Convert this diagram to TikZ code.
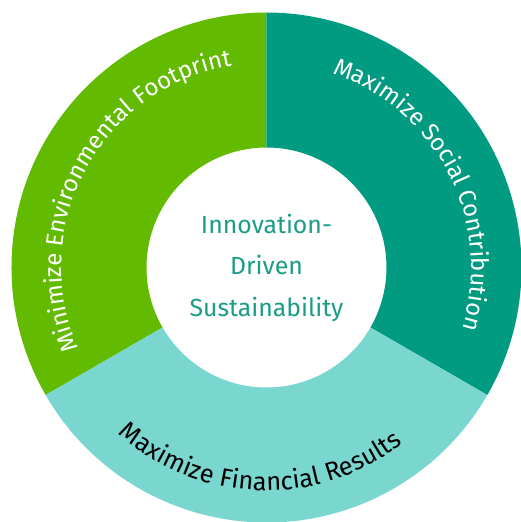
\documentclass[tikz,border=0pt]{standalone}
\usepackage{fontspec}
\setmainfont{Fira Sans}
\usetikzlibrary{decorations.text}
\definecolor{cgreen}{HTML}{62BB00}
\definecolor{cteal}{HTML}{009B80}
\definecolor{clight}{HTML}{79D7CF}
\definecolor{ctext}{HTML}{1A9C88}
\begin{document}
\begin{tikzpicture}[x=1pt,y=1pt,
  arclabel/.style={decorate, decoration={text along path, text align=center, text color=#1}}]
\useasboundingbox (-266.5,-254.5) rectangle (254.5,267.5);
\def\Ro{255}\def\Ri{120}
\fill[cgreen] (90:\Ro) arc[start angle=90,end angle=210,radius=\Ro] -- (210:\Ri) arc[start angle=210,end angle=90,radius=\Ri] -- cycle;
\fill[cteal] (-30:\Ro) arc[start angle=-30,end angle=90,radius=\Ro] -- (90:\Ri) arc[start angle=90,end angle=-30,radius=\Ri] -- cycle;
\fill[clight] (210:\Ro) arc[start angle=210,end angle=330,radius=\Ro] -- (330:\Ri) arc[start angle=330,end angle=210,radius=\Ri] -- cycle;
\path[arclabel=white, decoration={text={|\fontsize{24}{28}\selectfont|Maximize Social Contribution}}]
  (117:205) arc[start angle=117,end angle=-63,radius=205];
\path[arclabel=white, decoration={text={|\fontsize{24}{28}\selectfont|Minimize Environmental Footprint}}]
  (241.5:205) arc[start angle=241.5,end angle=61.5,radius=205];
\path[arclabel=black, decoration={text={|\fontsize{25.5}{30}\selectfont|Maximize Financial Results}}]
  (178:223) arc[start angle=178,end angle=358,radius=223];
\node[align=center, text=ctext, font=\fontsize{24.8}{41.5}\selectfont] (hub) at (0,0) {Innovation-\\Driven\\Sustainability};
\end{tikzpicture}
\end{document}
